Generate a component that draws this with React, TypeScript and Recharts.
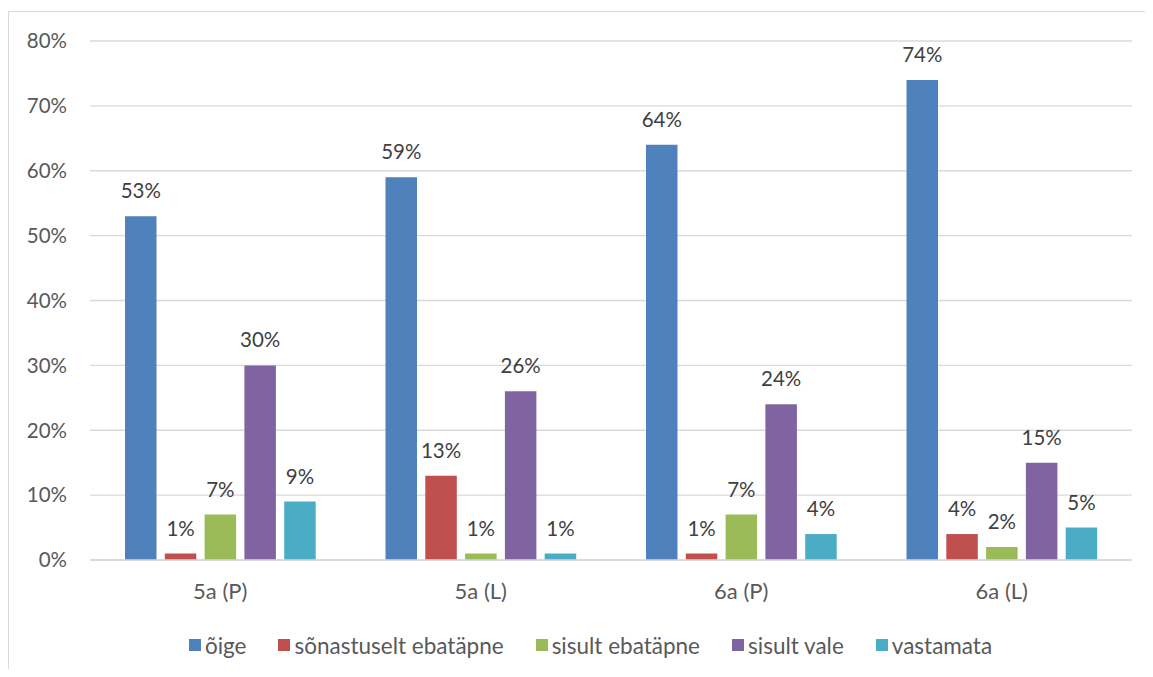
import { Bar, BarChart, CartesianGrid, LabelList, Legend, XAxis, YAxis } from 'recharts';

const categories = ['5a (P)', '5a (L)', '6a (P)', '6a (L)'];
const seriesNames = ['õige', 'sõnastuselt ebatäpne', 'sisult ebatäpne', 'sisult vale', 'vastamata'];
const oige = [53, 59, 64, 74];
const sonastuseltEbatapne = [1, 13, 1, 4];
const sisultEbatapne = [7, 1, 7, 2];
const sisultVale = [30, 26, 24, 15];
const vastamata = [9, 1, 4, 5];
const yTicks = [0, 10, 20, 30, 40, 50, 60, 70, 80];

const seriesValues = [oige, sonastuseltEbatapne, sisultEbatapne, sisultVale, vastamata];
const colors = ['#4F81BD', '#C0504D', '#9BBB59', '#8064A2', '#4BACC6'];

const chartData = categories.map((name, i) => {
  const row: Record<string, string | number> = { name };
  seriesValues.forEach((values, s) => {
    row[`s${s}`] = values[i];
  });
  return row;
});

const FONT = 'Lato, "Noto Sans", sans-serif';

function LegendRow() {
  return (
    <div
      style={{
        display: 'flex',
        justifyContent: 'center',
        alignItems: 'center',
        height: 50,
        paddingLeft: 19,
        gap: 32,
        fontFamily: FONT,
      }}
    >
      {seriesNames.map((label, i) => (
        <div key={label} style={{ display: 'flex', alignItems: 'center' }}>
          <span style={{ width: 12, height: 12, background: colors[i], marginRight: 4, display: 'inline-block' }} />
          <span style={{ fontSize: 22.5, color: '#595959' }}>{label}</span>
        </div>
      ))}
    </div>
  );
}

export default function App() {
  return (
    <div style={{ width: 1145, height: 669, overflow: 'hidden', marginBottom: -8, fontFamily: FONT }}>
      <div style={{ marginTop: 3, width: 1160, height: 680, border: '1px solid #d9d9d9', background: '#fff' }}>
        <BarChart
          width={1144}
          height={663}
          data={chartData}
          margin={{ top: 29, right: 21, left: 0, bottom: 5 }}
          barSize={31.5}
          barGap={8.3}
          style={{ fontFamily: FONT }}
        >
          <CartesianGrid vertical={false} stroke="#d9d9d9" strokeWidth={1.3} />
          <XAxis
            dataKey="name"
            height={60}
            tickLine={false}
            tickSize={0}
            tickMargin={23}
            axisLine={{ stroke: '#d9d9d9', strokeWidth: 1.3 }}
            tick={{ fill: '#595959', fontSize: 22 }}
          />
          <YAxis
            width={81}
            domain={[0, 80]}
            ticks={yTicks}
            tickFormatter={(v: number) => `${v}%`}
            axisLine={false}
            tickLine={false}
            tickSize={0}
            tickMargin={23}
            tick={{ fill: '#595959', fontSize: 20.5 }}
          />
          <Legend
            verticalAlign="bottom"
            content={<LegendRow />}
            wrapperStyle={{ left: 0, width: 1144 }}
          />
          {seriesNames.map((label, s) => (
            <Bar key={label} dataKey={`s${s}`} name={label} fill={colors[s]} isAnimationActive={false}>
              <LabelList
                dataKey={`s${s}`}
                position="top"
                offset={18}
                formatter={(v: number) => `${v}%`}
                fill="#404040"
                fontSize={20.5}
              />
            </Bar>
          ))}
        </BarChart>
      </div>
    </div>
  );
}
